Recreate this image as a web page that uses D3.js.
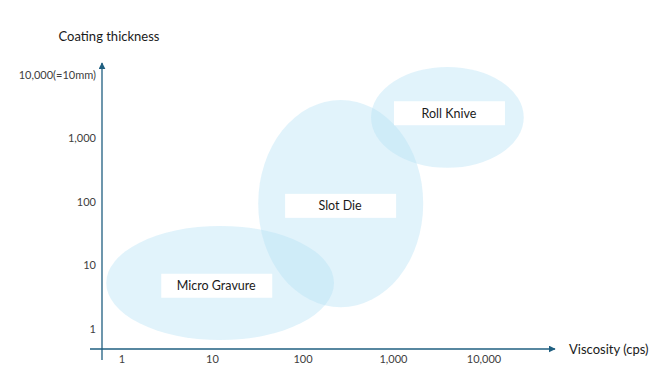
<!DOCTYPE html>
<html>
<head>
<meta charset="utf-8">
<script src="https://cdn.jsdelivr.net/npm/d3@7"></script>
<style>
  body { margin: 0; background: #fff; }
  svg { display: block; font-family: "Lato", "Noto Sans", sans-serif; }
</style>
</head>
<body>
<svg width="663" height="384"></svg>
<script>
// tick values + labels
const xTicks = [1, 10, 100, 1000, 10000];
const xTickLabels = ["1", "10", "100", "1,000", "10,000"];
const yTicks = [1, 10, 100, 1000, 10000];
const yTickLabels = ["1", "10", "100", "1,000", "10,000(=10mm)"];

// coating methods, ellipse extents in data units (viscosity x thickness)
const methods = ["Micro Gravure", "Slot Die", "Roll Knive"];
const xMin = [0.67, 32, 565];
const xMax = [220, 2130, 27500];
const yMin = [0.67, 2.2, 345];
const yMax = [42, 4050, 13400];
// where each label sits
const labelX = [11, 257, 4100];
const labelY = [4.8, 87, 2500];

const svg = d3.select("svg");
const axisColor = "#1f5f80";

const x = d3.scaleLog().domain([1, 10000]).range([122, 484]);
const y = d3.scaleLog().domain([1, 10000]).range([329, 75]);

svg.append("defs")
  .append("marker")
  .attr("id", "arrow")
  .attr("viewBox", "0 0 10 10")
  .attr("refX", 9)
  .attr("refY", 5)
  .attr("markerWidth", 7)
  .attr("markerHeight", 7)
  .attr("markerUnits", "userSpaceOnUse")
  .attr("orient", "auto")
  .append("path")
  .attr("d", "M0,0 L10,5 L0,10 z")
  .style("fill", axisColor);

// ellipses
const blobs = svg.append("g").attr("class", "blobs");
methods.forEach((m, i) => {
  const x0 = x(xMin[i]), x1 = x(xMax[i]);
  const y0 = y(yMax[i]), y1 = y(yMin[i]);
  blobs.append("ellipse")
    .attr("cx", (x0 + x1) / 2)
    .attr("cy", (y0 + y1) / 2)
    .attr("rx", (x1 - x0) / 2)
    .attr("ry", (y1 - y0) / 2)
    .style("fill", "#b5e0f4")
    .style("fill-opacity", 0.4);
});

// labels with white boxes
const lab = svg.append("g").attr("class", "labels");
methods.forEach((m, i) => {
  const cx = x(labelX[i]), cy = y(labelY[i]);
  lab.append("rect")
    .attr("x", cx - 55)
    .attr("y", cy - 12)
    .attr("width", 111)
    .attr("height", 24)
    .style("fill", "#fff");
  lab.append("text")
    .attr("x", cx)
    .attr("y", cy)
    .attr("dy", "0.35em")
    .text(m)
    .style("text-anchor", "middle")
    .style("font-size", "12.5px")
    .style("fill", "#1a1a1a");
});

// axes
const xAxisY = 349, yAxisX = 102;
svg.append("line")
  .attr("x1", 90).attr("y1", xAxisY)
  .attr("x2", 555).attr("y2", xAxisY)
  .attr("stroke", axisColor).attr("stroke-width", 1.3)
  .attr("marker-end", "url(#arrow)");
svg.append("line")
  .attr("x1", yAxisX).attr("y1", 360)
  .attr("x2", yAxisX).attr("y2", 63)
  .attr("stroke", axisColor).attr("stroke-width", 1.3)
  .attr("marker-end", "url(#arrow)");

svg.append("g")
  .selectAll("text")
  .data(xTicks)
  .join("text")
  .attr("x", d => x(d))
  .attr("y", 363)
  .text((d, i) => xTickLabels[i])
  .style("text-anchor", "middle")
  .style("font-size", "11px")
  .style("fill", "#404040");

svg.append("g")
  .selectAll("text")
  .data(yTicks)
  .join("text")
  .attr("x", 96)
  .attr("y", d => y(d))
  .attr("dy", "0.35em")
  .text((d, i) => yTickLabels[i])
  .style("text-anchor", "end")
  .style("font-size", "11px")
  .style("fill", "#404040");

svg.append("text")
  .attr("x", 109).attr("y", 41)
  .text("Coating thickness")
  .style("text-anchor", "middle")
  .style("font-size", "13px")
  .style("fill", "#1a1a1a");

svg.append("text")
  .attr("x", 569).attr("y", 354)
  .text("Viscosity (cps)")
  .style("font-size", "13px")
  .style("fill", "#1a1a1a");
</script>
</body>
</html>
